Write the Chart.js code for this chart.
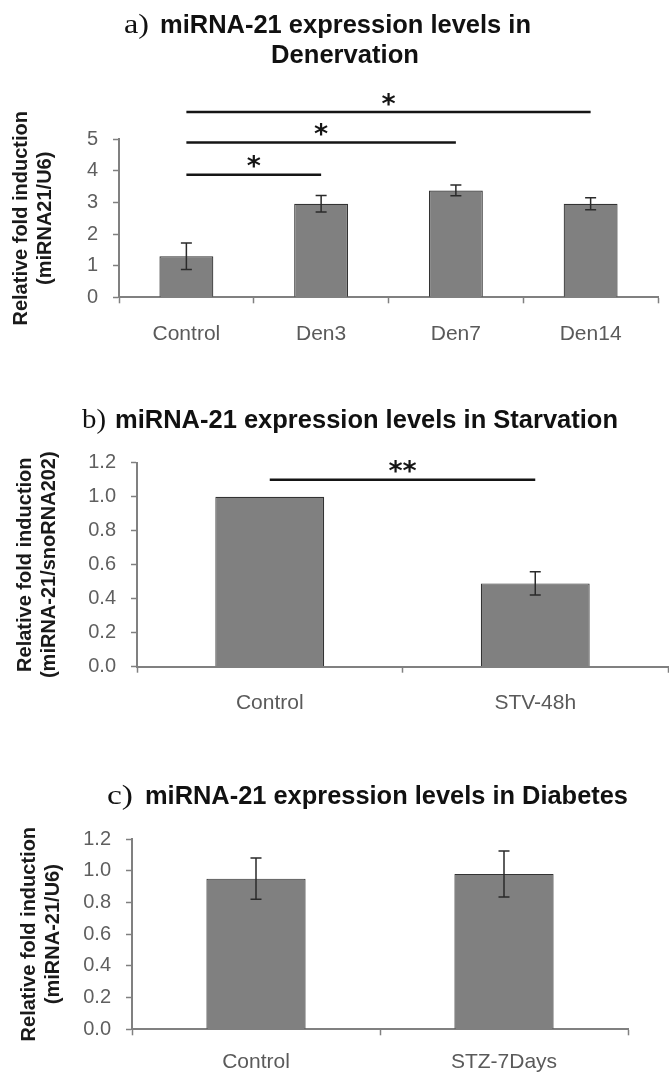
<!DOCTYPE html>
<html><head><meta charset="utf-8">
<script src="https://cdn.jsdelivr.net/npm/chart.js@4.4.1/dist/chart.umd.min.js"></script>
<style>
html,body{margin:0;padding:0;background:#fff;}
body{width:669px;height:1077px;position:relative;overflow:hidden;}
canvas{position:absolute;left:0;}
</style></head><body>
<canvas id="ca" width="669" height="365" style="top:0px"></canvas>
<canvas id="cb" width="669" height="375" style="top:365px"></canvas>
<canvas id="cc" width="669" height="337" style="top:740px"></canvas>
<script>
// ---- Panel a: Denervation ----
const catsA = ['Control', 'Den3', 'Den7', 'Den14'];
const valsA = [1.30, 2.96, 3.38, 2.96];
const errsA = [0.42, 0.26, 0.17, 0.19];
const yTicksA = [0, 1, 2, 3, 4, 5];
const yLabelsA = ['0', '1', '2', '3', '4', '5'];
const sigFromA = [0, 0, 0];
const sigToA = [1, 2, 3];
const sigLevelA = [3.88, 4.90, 5.86];
const sigTextA = ['*', '*', '*'];

// ---- Panel b: Starvation ----
const catsB = ['Control', 'STV-48h'];
const valsB = [1.00, 0.49];
const errsB = [0, 0.068];
const yTicksB = [0, 0.2, 0.4, 0.6, 0.8, 1.0, 1.2];
const yLabelsB = ['0.0', '0.2', '0.4', '0.6', '0.8', '1.0', '1.2'];
const sigFromB = [0];
const sigToB = [1];
const sigLevelB = [1.10];
const sigTextB = ['**'];

// ---- Panel c: Diabetes ----
const catsC = ['Control', 'STZ-7Days'];
const valsC = [0.95, 0.98];
const errsC = [0.13, 0.145];
const yTicksC = [0, 0.2, 0.4, 0.6, 0.8, 1.0, 1.2];
const yLabelsC = ['0.0', '0.2', '0.4', '0.6', '0.8', '1.0', '1.2'];

const SANS = '"Liberation Sans", Arial, sans-serif';
const SERIF = '"Liberation Serif", "Times New Roman", serif';

function drawScaled(ctx, text, x, y, font, targetW, color) {
  ctx.save();
  ctx.font = font;
  ctx.fillStyle = color || '#111';
  ctx.textAlign = 'left';
  ctx.textBaseline = 'alphabetic';
  const w = ctx.measureText(text).width;
  ctx.translate(x, y);
  ctx.scale(targetW ? targetW / w : 1, 1);
  ctx.fillText(text, 0, 0);
  ctx.restore();
}

const errPlugin = {
  id: 'errbars',
  afterDatasetsDraw(chart, args, opts) {
    const ctx = chart.ctx, meta = chart.getDatasetMeta(0), y = chart.scales.y;
    const vals = chart.data.datasets[0].data;
    ctx.save();
    ctx.strokeStyle = '#2a2a2a';
    ctx.lineWidth = 1.5;
    opts.errs.forEach((e, i) => {
      if (!e) return;
      const x = meta.data[i].x;
      const yt = y.getPixelForValue(vals[i] + e), yb = y.getPixelForValue(vals[i] - e);
      ctx.beginPath();
      ctx.moveTo(x, yt); ctx.lineTo(x, yb);
      ctx.moveTo(x - 5.5, yt); ctx.lineTo(x + 5.5, yt);
      ctx.moveTo(x - 5.5, yb); ctx.lineTo(x + 5.5, yb);
      ctx.stroke();
    });
    ctx.restore();
  }
};

const sigPlugin = {
  id: 'sig',
  afterDraw(chart, args, opts) {
    if (!opts.from) return;
    const ctx = chart.ctx, xs = chart.scales.x, y = chart.scales.y;
    ctx.save();
    opts.from.forEach((f, k) => {
      const x1 = xs.getPixelForValue(f), x2 = xs.getPixelForValue(opts.to[k]);
      const yy = y.getPixelForValue(opts.level[k]);
      ctx.strokeStyle = '#151515';
      ctx.lineWidth = 2.5;
      ctx.beginPath(); ctx.moveTo(x1, yy); ctx.lineTo(x2, yy); ctx.stroke();
      ctx.font = 'bold 27px "DejaVu Sans", sans-serif';
      ctx.fillStyle = '#151515';
      ctx.textAlign = 'center';
      ctx.textBaseline = 'alphabetic';
      const m = ctx.measureText(opts.text[k]);
      const cy = yy - 13;
      const base = cy + (m.actualBoundingBoxAscent - m.actualBoundingBoxDescent) / 2;
      ctx.fillText(opts.text[k], (x1 + x2) / 2, base);
    });
    ctx.restore();
  }
};

const titlePlugin = {
  id: 'ptitle',
  afterDraw(chart, args, opts) {
    const ctx = chart.ctx;
    opts.parts.forEach(p => drawScaled(ctx, p.t, p.x, p.b - opts.top, p.f, p.w, '#111'));
  }
};

function makeChart(id, g) {
  const H = 45;
  new Chart(document.getElementById(id), {
    type: 'bar',
    data: {
      labels: g.cats,
      datasets: [{
        data: g.vals,
        backgroundColor: '#808080',
        borderColor: '#333333',
        borderWidth: 1.2,
        borderSkipped: 'bottom',
        barPercentage: g.barPct,
        categoryPercentage: 1.0
      }]
    },
    options: {
      responsive: false,
      animation: false,
      events: [],
      layout: { padding: { left: 0, right: 669 - g.right, top: g.top - g.ctop, bottom: g.ctop + g.ch - g.bottom - H } },
      plugins: {
        legend: { display: false },
        tooltip: { enabled: false },
        title: { display: false },
        errbars: { errs: g.errs },
        sig: { from: g.sigFrom, to: g.sigTo, level: g.sigLevel, text: g.sigText },
        ptitle: { top: g.ctop, parts: g.titles }
      },
      scales: {
        x: {
          offset: true,
          grid: { display: true, drawOnChartArea: false, drawTicks: true, tickLength: 6, tickColor: '#808080', tickWidth: 1.5, offset: true },
          border: { display: true, color: '#808080', width: 2 },
          ticks: { color: '#5a5a5a', font: { family: SANS, size: 21 }, padding: g.xPad, maxRotation: 0, autoSkip: false },
          afterFit: s => { s.height = H; }
        },
        y: {
          min: g.yTicks[0],
          max: g.yTicks[g.yTicks.length - 1],
          afterBuildTicks: s => { s.ticks = g.yTicks.map(v => ({ value: v })); },
          ticks: { callback: (v, i) => g.yLabels[i], color: '#5f5f5f', font: { family: SANS, size: 20 }, padding: 15 },
          grid: { display: true, drawOnChartArea: false, drawTicks: true, tickLength: 6, tickColor: '#808080', tickWidth: 1.5 },
          border: { display: true, color: '#808080', width: 2 },
          title: {
            display: true,
            text: g.yTitle,
            color: '#1a1a1a',
            font: { family: SANS, size: 20, weight: 'bold', lineHeight: 1.2 },
            padding: { top: g.yTitlePad, bottom: 0 }
          },
          afterFit: s => { s.width = g.left; }
        }
      }
    },
    plugins: [errPlugin, sigPlugin, titlePlugin]
  });
}

const TB = 'bold 25px ' + SANS;
const TS = '28px ' + SERIF;

makeChart('ca', {
  cats: catsA, vals: valsA, errs: errsA, yTicks: yTicksA, yLabels: yLabelsA,
  sigFrom: sigFromA, sigTo: sigToA, sigLevel: sigLevelA, sigText: sigTextA,
  barPct: 0.40, ctop: 0, ch: 365, left: 119, right: 658, top: 139.3, bottom: 297.3, xPad: 18,
  yTitle: ['Relative fold induction', '(miRNA21/U6)'], yTitlePad: 9,
  titles: [
    { t: 'a)', f: TS, x: 124, w: 25, b: 33 },
    { t: 'miRNA-21 expression levels in', f: TB, x: 160, w: 371, b: 33 },
    { t: 'Denervation', f: TB, x: 271, w: 148, b: 63 }
  ]
});

makeChart('cb', {
  cats: catsB, vals: valsB, errs: errsB, yTicks: yTicksB, yLabels: yLabelsB,
  sigFrom: sigFromB, sigTo: sigToB, sigLevel: sigLevelB, sigText: sigTextB,
  barPct: 0.41, ctop: 365, ch: 375, left: 137, right: 668, top: 462.7, bottom: 666.7, xPad: 18,
  yTitle: ['Relative fold induction', '(miRNA-21/snoRNA202)'], yTitlePad: 13,
  titles: [
    { t: 'b)', f: TS, x: 82, w: 24, b: 428 },
    { t: 'miRNA-21 expression levels in Starvation', f: TB, x: 115, w: 503, b: 428 }
  ]
});

makeChart('cc', {
  cats: catsC, vals: valsC, errs: errsC, yTicks: yTicksC, yLabels: yLabelsC,
  sigFrom: null, sigTo: null, sigLevel: null, sigText: null,
  barPct: 0.40, ctop: 740, ch: 337, left: 132, right: 628, top: 839, bottom: 1029.3, xPad: 14,
  yTitle: ['Relative fold induction', '(miRNA-21/U6)'], yTitlePad: 17,
  titles: [
    { t: 'c)', f: TS, x: 107, w: 26, b: 804 },
    { t: 'miRNA-21 expression levels in Diabetes', f: TB, x: 145, w: 483, b: 804 }
  ]
});
</script>
</body></html>
